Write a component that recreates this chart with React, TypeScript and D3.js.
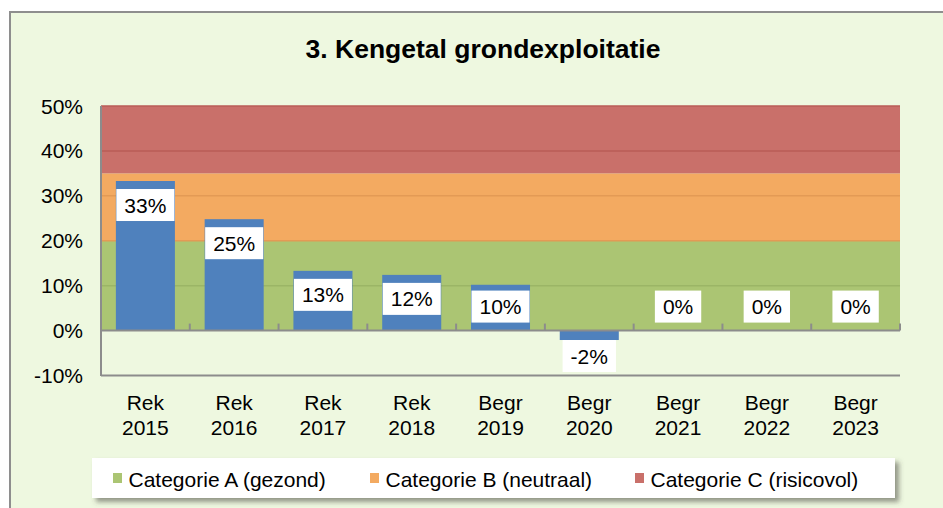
import React from "react";
import * as d3 from "d3";

// chart data
const periods = ["Rek", "Rek", "Rek", "Rek", "Begr", "Begr", "Begr", "Begr", "Begr"];
const years = ["2015", "2016", "2017", "2018", "2019", "2020", "2021", "2022", "2023"];
const values = [33.3, 24.8, 13.3, 12.4, 10.2, -2.1, 0, 0, 0];

const bandNames = ["Categorie A (gezond)", "Categorie B (neutraal)", "Categorie C (risicovol)"];
const bandFrom = [0, 20, 35];
const bandTo = [20, 35, 50];
const bandColors = ["#ABC573", "#F3AA61", "#C9706A"];
const gridColors = ["#9BB566", "#E39A55", "#B95C57"];

const yTicks = [-10, 0, 10, 20, 30, 40, 50];

const FONT = "'Liberation Sans', Arial, sans-serif";
const W = 943;
const H = 508;

let ctx: CanvasRenderingContext2D | null = null;
function textWidth(s: string, size: number) {
  if (!ctx) ctx = document.createElement("canvas").getContext("2d");
  if (!ctx) return s.length * size * 0.55;
  ctx.font = `${size}px ${FONT}`;
  return ctx.measureText(s).width;
}

export default function App() {
  const x = d3
    .scaleBand<number>()
    .domain(d3.range(values.length))
    .range([101, 900])
    .paddingInner(0.335)
    .paddingOuter(0.1675);
  const step = x.step();
  const x0 = 101;

  const y = d3.scaleLinear().domain([-10, 50]).range([375.5, 106]);
  const y0 = y(0);

  const gridVals = [10, 20, 30, 40, 50];
  const gridColor = (g: number) => {
    let i = bandFrom.findIndex((f, k) => g >= f && g < bandTo[k]);
    if (i < 0) i = bandFrom.length - 1;
    return gridColors[i];
  };

  const legendSwatchX = [113, 370, 635];

  return (
    <svg
      width={W}
      height={H}
      style={{ position: "absolute", left: 0, top: 0, background: "#fff" }}
      fontFamily={FONT}
    >
      <defs>
        <filter id="shadow" x="-5%" y="-30%" width="115%" height="180%">
          <feDropShadow dx="4" dy="4" stdDeviation="2.5" floodColor="#4a4a40" floodOpacity="0.55" />
        </filter>
      </defs>

      <rect x={10} y={12} width={945} height={510} fill="#EEF8E0" stroke="#8E8E8E" strokeWidth={2} />

      <text x={483} y={58} textAnchor="middle" fontSize={26.5} fontWeight="bold" fill="#000">
        3. Kengetal grondexploitatie
      </text>

      {/* risk bands */}
      {bandNames.map((n, i) => (
        <rect
          key={n}
          x={x0}
          y={y(bandTo[i])}
          width={900 - x0}
          height={y(bandFrom[i]) - y(bandTo[i])}
          fill={bandColors[i]}
        />
      ))}
      {gridVals.map((g) => (
        <line key={g} x1={x0} x2={900} y1={y(g)} y2={y(g)} stroke={gridColor(g)} strokeWidth={1.5} />
      ))}

      {/* bars */}
      {values.map((v, i) => (
        <rect
          key={i}
          x={x(i)}
          y={Math.min(y(v), y0)}
          width={x.bandwidth()}
          height={Math.abs(y(v) - y0)}
          fill="#4F81BD"
        />
      ))}

      {/* axes */}
      <line x1={x0} x2={x0} y1={106} y2={376} stroke="#8C8C8C" strokeWidth={2} />
      <line x1={x0} x2={900} y1={y0} y2={y0} stroke="#8C8C8C" strokeWidth={2} />
      <line x1={x0} x2={900} y1={y(-10)} y2={y(-10)} stroke="#8C8C8C" strokeWidth={2} />
      {d3.range(1, values.length + 1).map((k) => (
        <line
          key={k}
          x1={x0 + k * step}
          x2={x0 + k * step}
          y1={y0}
          y2={y0 - 7}
          stroke="#8C8C8C"
          strokeWidth={2}
        />
      ))}

      {yTicks.map((t) => (
        <text key={t} x={83} y={y(t) + 7.5} textAnchor="end" fontSize={21} fill="#000">
          {`${t}%`}
        </text>
      ))}

      {values.map((_, i) => {
        const cx = (x(i) ?? 0) + x.bandwidth() / 2;
        return (
          <text key={i} textAnchor="middle" fontSize={21} fill="#000">
            <tspan x={cx} y={410}>{periods[i]}</tspan>
            <tspan x={cx} y={435}>{years[i]}</tspan>
          </text>
        );
      })}

      {/* data labels */}
      {values.map((v, i) => {
        const label = `${Math.round(v)}%`;
        const w = textWidth(label, 21) + 16;
        const h = 32;
        const cx = (x(i) ?? 0) + x.bandwidth() / 2;
        const top = v < 0 ? y(v) : Math.min(y(v) + 8, y0 - 40);
        return (
          <g key={i}>
            <rect x={cx - w / 2} y={top} width={w} height={h} fill="#fff" />
            <text x={cx} y={top + h / 2 + 7.5} textAnchor="middle" fontSize={21} fill="#000">
              {label}
            </text>
          </g>
        );
      })}

      {/* legend */}
      <rect x={92} y={458} width={803} height={40} fill="#fff" filter="url(#shadow)" />
      {bandNames.map((n, i) => (
        <g key={n}>
          <rect x={legendSwatchX[i]} y={473} width={9} height={10} fill={bandColors[i]} />
          <text x={legendSwatchX[i] + 15.5} y={487} fontSize={21} fill="#000">
            {n}
          </text>
        </g>
      ))}
    </svg>
  );
}
